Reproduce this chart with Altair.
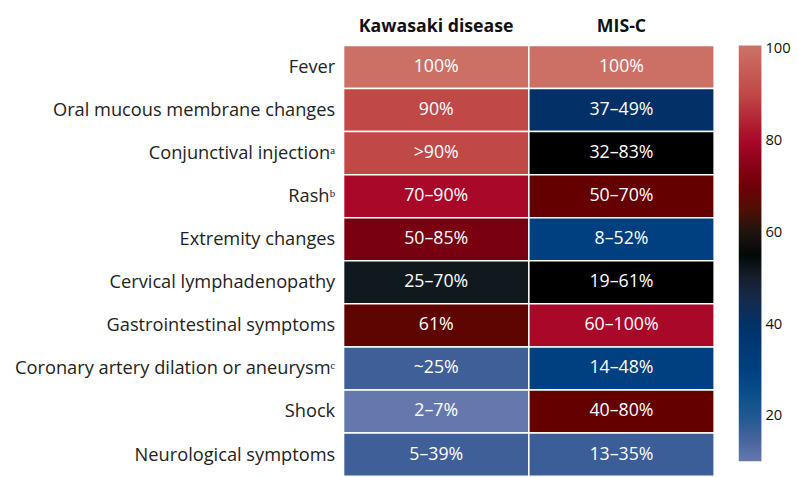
import altair as alt
import pandas as pd

symptoms = [
    "Fever",
    "Oral mucous membrane changes",
    "Conjunctival injectionᵃ",
    "Rashᵇ",
    "Extremity changes",
    "Cervical lymphadenopathy",
    "Gastrointestinal symptoms",
    "Coronary artery dilation or aneurysmᶜ",
    "Shock",
    "Neurological symptoms",
]
groups = ["Kawasaki disease", "MIS-C"]

kd_text = ["100%", "90%", ">90%", "70–90%", "50–85%", "25–70%", "61%", "~25%", "2–7%", "5–39%"]
misc_text = ["100%", "37–49%", "32–83%", "50–70%", "8–52%", "19–61%", "60–100%", "14–48%", "40–80%", "13–35%"]

# colour-encoded values read against the colour bar
kd_value = [100, 90, 90, 80, 72, 52, 67, 16, 10, 16]
misc_value = [100, 41, 56, 68, 30, 56, 80, 30, 68, 16.5]

rows = []
for i, s in enumerate(symptoms):
    rows.append({"symptom": s, "group": groups[0], "value": kd_value[i], "label": kd_text[i]})
    rows.append({"symptom": s, "group": groups[1], "value": misc_value[i], "label": misc_text[i]})
df = pd.DataFrame(rows)

stops = [10, 16, 22, 30, 41, 47, 52, 56, 60, 64, 68, 72, 80, 90, 100, 100.6]
colors = ["#6578ae", "#3f5f99", "#0f5590", "#004080", "#033066", "#1c2740", "#101a1e",
          "#000000", "#1e1410", "#4a1205", "#650000", "#780010", "#aa0828", "#c04846", "#cc7066", "#cd7268"]

FONT = "Open Sans"

base = alt.Chart(df).encode(
    x=alt.X("group:N", sort=groups, title=None,
            axis=alt.Axis(orient="top", labelAngle=0, labelFontWeight="bold", labelFontSize=18,
                          labelColor="#111", labelPadding=10, ticks=False, domain=False, labelFont=FONT)),
    y=alt.Y("symptom:N", sort=symptoms, title=None,
            axis=alt.Axis(labelFontSize=18.5, labelColor="#222", labelPadding=9, ticks=False,
                          domain=False, labelFont=FONT, labelLimit=400)),
)

rect = base.mark_rect(stroke="white", strokeWidth=1.5).encode(
    color=alt.Color("value:Q",
                    scale=alt.Scale(domain=stops, range=colors, interpolate="rgb"),
                    legend=alt.Legend(title=None, values=[20, 40, 60, 80, 100], gradientLength=422,
                                      gradientThickness=23, labelFontSize=15, labelFont=FONT,
                                      labelColor="#111", offset=24.5, gradientStrokeWidth=0,
                                      labelOffset=4, labelBaseline="middle", direction="vertical"))
)

text = base.mark_text(color="white", fontSize=18, font=FONT).encode(text="label:N")

chart = (rect + text).properties(width=376, height=437, padding={"top": 6.5, "left": 5.5, "right": 0, "bottom": 5}).configure_view(stroke=None)

chart.save("out.html", embed_options={"renderer": "svg", "actions": False})
